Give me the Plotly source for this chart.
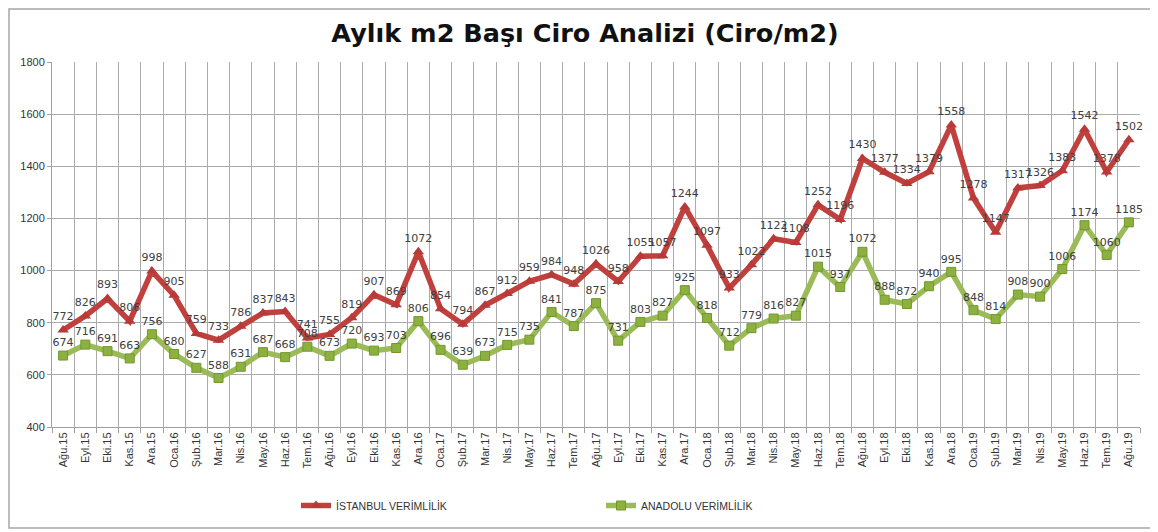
import plotly.graph_objects as go

aylar = ["Ağu.15", "Eyl.15", "Eki.15", "Kas.15", "Ara.15",
         "Oca.16", "Şub.16", "Mar.16", "Nis.16", "May.16", "Haz.16", "Tem.16", "Ağu.16", "Eyl.16", "Eki.16", "Kas.16", "Ara.16",
         "Oca.17", "Şub.17", "Mar.17", "Nis.17", "May.17", "Haz.17", "Tem.17", "Ağu.17", "Eyl.17", "Eki.17", "Kas.17", "Ara.17",
         "Oca.18", "Şub.18", "Mar.18", "Nis.18", "May.18", "Haz.18", "Tem.18", "Ağu.18", "Eyl.18", "Eki.18", "Kas.18", "Ara.18",
         "Oca.19", "Şub.19", "Mar.19", "Nis.19", "May.19", "Haz.19", "Tem.19", "Ağu.19"]

istanbul = [772, 826, 893, 806, 998,
            905, 759, 733, 786, 837, 843, 741, 755, 819, 907, 869, 1072,
            854, 794, 867, 912, 959, 984, 948, 1026, 958, 1055, 1057, 1244,
            1097, 933, 1022, 1122, 1108, 1252, 1196, 1430, 1377, 1334, 1379, 1558,
            1278, 1147, 1317, 1326, 1383, 1542, 1378, 1502]

anadolu = [674, 716, 691, 663, 756,
           680, 627, 588, 631, 687, 668, 708, 673, 720, 693, 703, 806,
           696, 639, 673, 715, 735, 841, 787, 875, 731, 803, 827, 925,
           818, 712, 779, 816, 827, 1015, 937, 1072, 888, 872, 940, 995,
           848, 814, 908, 900, 1006, 1174, 1060, 1185]

# sayfa gövdesi 8px kenar boşluğu bırakıyor, figürü ona göre küçült
W, H = 1150, 524
ML, MR, MT, MB = 44, 18, 54, 105
pw = W - ML - MR
ph = H - MT - MB

lbl_font = dict(family="DejaVu Sans", size=11, color="#404040")

fig = go.Figure()

fig.add_trace(go.Scatter(
    x=aylar, y=istanbul, name="İSTANBUL VERİMLİLİK",
    mode="lines+markers+text",
    line=dict(color="#C0403E", width=5.5),
    marker=dict(symbol="triangle-up", size=10, color="#B83A38"),
    text=[str(v) for v in istanbul], textposition="top center",
    textfont=lbl_font, cliponaxis=False))

fig.add_trace(go.Scatter(
    x=aylar, y=anadolu, name="ANADOLU VERİMLİLİK",
    mode="lines+markers+text",
    line=dict(color="#9BBB59", width=5.5),
    marker=dict(symbol="square", size=9, color="#8DB040",
                line=dict(color="#6F9A2A", width=1)),
    text=[str(v) for v in anadolu], textposition="top center",
    textfont=lbl_font, cliponaxis=False))

# dış çerçeve
fig.add_shape(type="rect", xref="paper", yref="paper",
              x0=(1 - ML) / pw, x1=(W - 5 - ML) / pw,
              y0=-(H - 4 - MT - ph) / ph, y1=1 + (MT - 1) / ph,
              line=dict(color="#A6A6A6", width=1.5), layer="below")

fig.update_layout(
    width=W, height=H,
    margin=dict(l=ML, r=MR, t=MT, b=MB, autoexpand=False),
    paper_bgcolor="white", plot_bgcolor="white",
    title=dict(text="<b>Aylık m2 Başı Ciro Analizi (Ciro/m2)</b>",
               x=577 / W, xref="container", xanchor="center", y=1 - 25 / H, yanchor="middle",
               font=dict(family="DejaVu Sans", size=25.5, color="#111111")),
    showlegend=True,
    legend=dict(orientation="h", x=(288 - ML) / pw, xanchor="left",
                y=-(483 - MT - ph) / ph, yanchor="top",
                font=dict(family="Liberation Sans", size=10.5, color="#333333"),
                entrywidth=260, itemwidth=30),
    xaxis=dict(type="category", range=[-0.5, 48.5], tickangle=-90,
               tickson="boundaries", showgrid=True, gridcolor="#ABABAB", gridwidth=1,
               showline=True, linecolor="#A0A0A0", ticks="outside", ticklen=5,
               tickcolor="#A0A0A0",
               tickfont=dict(family="Liberation Sans", size=11, color="#333333")),
    yaxis=dict(range=[400, 1800], dtick=200, showgrid=True, gridcolor="#ABABAB",
               gridwidth=1, showline=True, linecolor="#A0A0A0", ticks="outside",
               ticklen=4, tickcolor="#A0A0A0", zeroline=False,
               tickfont=dict(family="Liberation Sans", size=11, color="#333333")),
)

fig.write_html("out.html")
